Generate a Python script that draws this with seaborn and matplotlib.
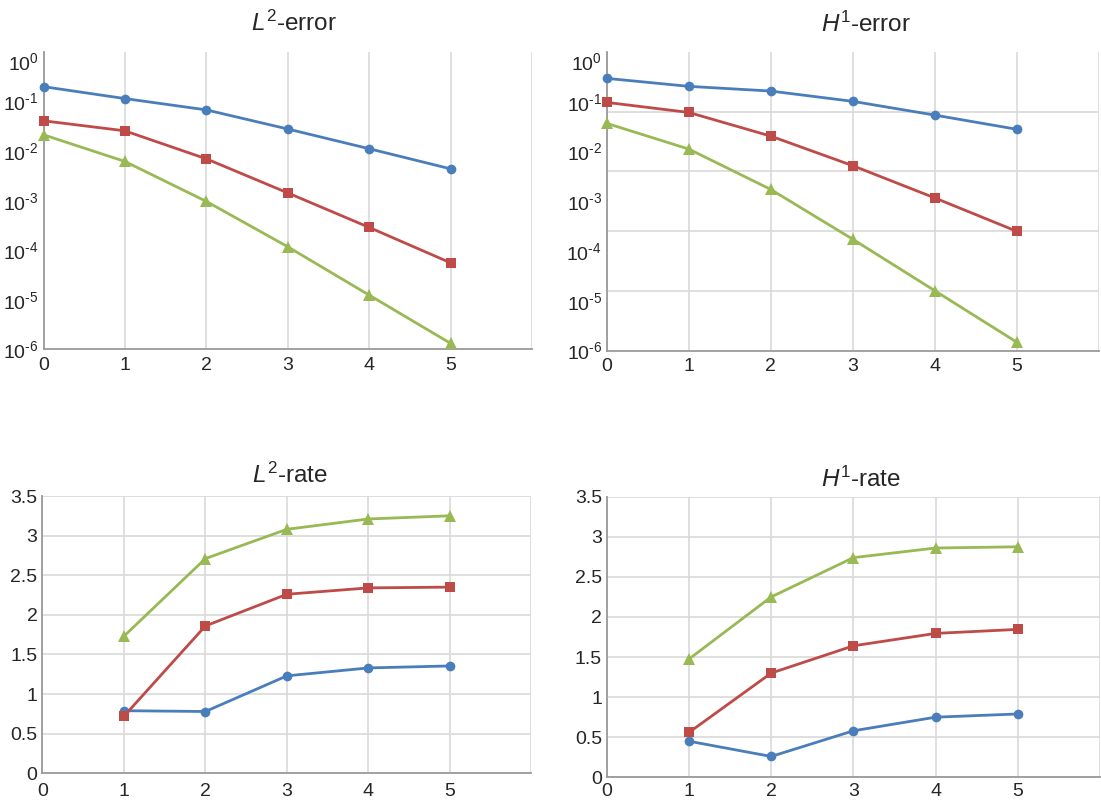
import numpy as np
import pandas as pd
import matplotlib
matplotlib.use("Agg")
import matplotlib.pyplot as plt
import matplotlib.ticker as mticker
import seaborn as sns

# ---------------- data ----------------
levels_err = [0, 1, 2, 3, 4, 5]
levels_rate = [1, 2, 3, 4, 5]
series = ["P1", "P2", "P3"]

l2_err_p1 = [0.20, 0.115, 0.068, 0.028, 0.0112, 0.0044]
l2_err_p2 = [0.041, 0.0257, 0.0070, 0.00144, 0.00029, 5.6e-5]
l2_err_p3 = [0.0214, 0.0062, 0.00097, 1.18e-4, 1.25e-5, 1.33e-6]

h1_err_p1 = [0.295, 0.204, 0.164, 0.102, 0.054, 0.028]
h1_err_p2 = [0.097, 0.061, 0.0204, 0.0052, 0.00117, 2.5e-4]
h1_err_p3 = [0.0367, 0.0112, 0.00173, 1.73e-4, 1.6e-5, 1.48e-6]

l2_rate_p1 = [0.79, 0.78, 1.23, 1.33, 1.355]
l2_rate_p2 = [0.72, 1.86, 2.26, 2.34, 2.35]
l2_rate_p3 = [1.73, 2.71, 3.08, 3.21, 3.25]

h1_rate_p1 = [0.45, 0.26, 0.58, 0.75, 0.79]
h1_rate_p2 = [0.56, 1.30, 1.64, 1.795, 1.845]
h1_rate_p3 = [1.475, 2.25, 2.74, 2.86, 2.875]

titles = [r"$L^{2}$-error", r"$H^{1}$-error", r"$L^{2}$-rate", r"$H^{1}$-rate"]
rate_ticks = [0, 0.5, 1, 1.5, 2, 2.5, 3, 3.5]
rate_tick_labels = ["0", "0.5", "1", "1.5", "2", "2.5", "3", "3.5"]
err_exponents = [0, -1, -2, -3, -4, -5, -6]
x_ticks = [0, 1, 2, 3, 4, 5]

colors = {"P1": "#4a7ebb", "P2": "#be4b48", "P3": "#98b954"}
markers = {"P1": "o", "P2": "s", "P3": "^"}
marker_sizes = {"o": 7, "s": 6.8, "^": 9}


def long_df(x, ys):
    frames = []
    for name, y in zip(series, ys):
        frames.append(pd.DataFrame({"level": x, "value": y, "series": name}))
    return pd.concat(frames, ignore_index=True)


df_l2_err = long_df(levels_err, [l2_err_p1, l2_err_p2, l2_err_p3])
df_h1_err = long_df(levels_err, [h1_err_p1, h1_err_p2, h1_err_p3])
df_l2_rate = long_df(levels_rate, [l2_rate_p1, l2_rate_p2, l2_rate_p3])
df_h1_rate = long_df(levels_rate, [h1_rate_p1, h1_rate_p2, h1_rate_p3])

# ---------------- style ----------------
sns.set_style("white")
plt.rcParams["font.family"] = ["Liberation Sans", "DejaVu Sans"]
plt.rcParams["mathtext.fontset"] = "custom"
plt.rcParams["mathtext.rm"] = "Liberation Sans"
plt.rcParams["mathtext.it"] = "Liberation Sans:italic"
plt.rcParams["mathtext.bf"] = "Liberation Sans:bold"

W, H = 1101, 805
fig = plt.figure(figsize=(W / 100, H / 100), dpi=100)


def px_axes(l, r, t, b):
    return fig.add_axes([l / W, 1 - b / H, (r - l) / W, (b - t) / H])


ax_tl = px_axes(43.5, 532, 52, 349.5)
ax_tr = px_axes(606.8, 1098.5, 52, 350.5)
ax_bl = px_axes(42.4, 531.4, 496, 773.3)
ax_br = px_axes(606.8, 1100, 496.7, 777.3)

grid_c = "#d9d9d9"
spine_c = "#9a9a9a"
text_c = "#262626"


def draw(ax, df):
    sns.lineplot(data=df, x="level", y="value", hue="series", style="series",
                 palette=colors, markers=markers, dashes=False, linewidth=2.0,
                 markersize=7, markeredgewidth=0, legend=False, ax=ax,
                 clip_on=False, zorder=3)
    for ln in ax.lines:
        m = ln.get_marker()
        if m in marker_sizes:
            ln.set_markersize(marker_sizes[m])


def common(ax, xpad):
    ax.set_xlim(0, 6)
    ax.set_xticks(x_ticks)
    ax.set_xticklabels([str(v) for v in x_ticks])
    ax.xaxis.set_minor_locator(mticker.FixedLocator([6]))
    ax.set_xlabel("")
    ax.set_ylabel("")
    for s in ["top", "right"]:
        ax.spines[s].set_visible(False)
    for s in ["left", "bottom"]:
        ax.spines[s].set_color(spine_c)
        ax.spines[s].set_linewidth(1.3)
        ax.spines[s].set_zorder(2.5)
    ax.grid(True, axis="x", which="both", color=grid_c, linewidth=1.2)
    ax.tick_params(axis="both", which="both", length=0, colors=text_c, labelsize=14)
    ax.tick_params(axis="x", pad=xpad)
    ax.tick_params(axis="y", pad=3.5)
    ax.set_axisbelow(True)


# error plots
for ax, df in [(ax_tl, df_l2_err), (ax_tr, df_h1_err)]:
    draw(ax, df)
    ax.set_yscale("log")
    ax.set_ylim(1e-6, 1e0)
    ax.yaxis.set_major_locator(mticker.FixedLocator([10.0 ** e for e in err_exponents]))
    ax.yaxis.set_major_formatter(mticker.FixedFormatter(
        [r"$\mathregular{10^{\text{%d}}}$" % e for e in err_exponents]))
    common(ax, 5.5)

# horizontal gridlines
ax_tl.yaxis.set_minor_locator(mticker.FixedLocator([10.0 ** (-k) for k in range(1, 6)]))
ax_tl.yaxis.set_minor_formatter(mticker.NullFormatter())
ax_tl.grid(True, axis="y", which="minor", color=grid_c, linewidth=1.2)
ax_tl.grid(False, axis="y", which="major")

ax_tr.yaxis.set_minor_locator(mticker.FixedLocator([10.0 ** (-1.2 * k) for k in range(1, 5)]))
ax_tr.yaxis.set_minor_formatter(mticker.NullFormatter())
ax_tr.grid(True, axis="y", which="minor", color=grid_c, linewidth=1.2)
ax_tr.grid(False, axis="y", which="major")

# rate plots
for ax, df, xpad in [(ax_bl, df_l2_rate, 7.0), (ax_br, df_h1_rate, 4.0)]:
    draw(ax, df)
    ax.set_ylim(0, 3.5)
    ax.set_yticks(rate_ticks)
    ax.set_yticklabels(rate_tick_labels)
    common(ax, xpad)
    ax.grid(True, axis="y", which="major", color=grid_c, linewidth=1.2)

# top label of log axes sits just below the axis top
fig.canvas.draw()
for ax in (ax_tl, ax_tr):
    ax.get_yticklabels()[0].set_verticalalignment("top")

# titles (centre x, baseline y in pixels)
title_pos = [(294, 31), (866.5, 31.7), (290, 483.3), (861, 486.7)]
for t, (cx, by) in zip(titles, title_pos):
    fig.text(cx / W, 1 - by / H, t, ha="center", va="baseline",
             fontsize=17.5, color=text_c)

fig.savefig("out.png", dpi=100, facecolor="white")
